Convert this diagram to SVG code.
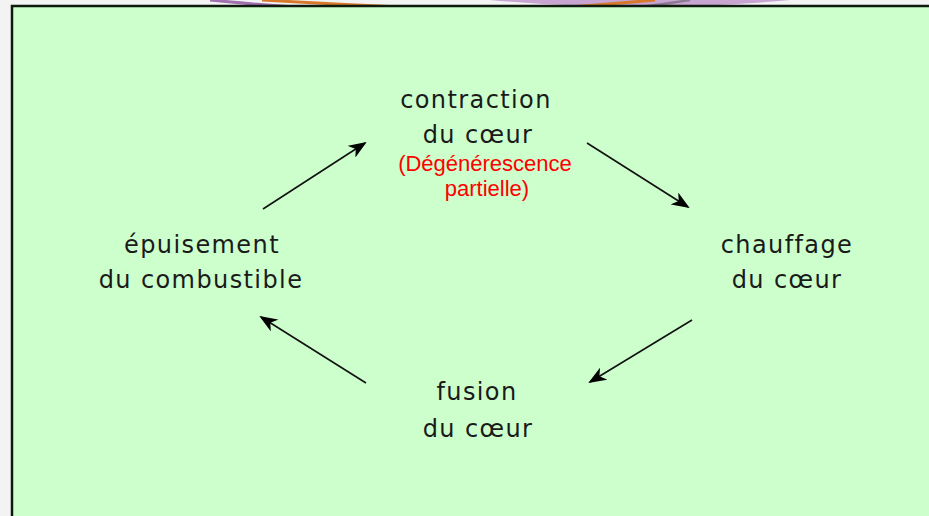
<svg xmlns="http://www.w3.org/2000/svg" width="929" height="516" viewBox="0 0 929 516">
<style>
.lbl{font-family:"DejaVu Sans","Liberation Sans",sans-serif;font-size:24px;fill:#1a1a1a;text-anchor:middle;letter-spacing:1.4px}
.red{font-family:"Liberation Sans",Arial,sans-serif;font-size:22px;fill:#ff0000;text-anchor:middle}
.arr{stroke:#111;stroke-width:1.6;fill:none;marker-end:url(#ah)}
</style>
<defs>
<marker id="ah" markerWidth="18" markerHeight="14" refX="16" refY="7" orient="auto" markerUnits="userSpaceOnUse">
<path d="M0,0 L18,7 L0,14 L5,7 Z" fill="#000"/>
</marker>
</defs>
<rect x="0" y="0" width="929" height="516" fill="#f3f3f3"/>
<g id="decoration">
<path d="M490,0 Q640,14 790,0 Z" fill="#c8a4d2"/>
<path d="M210,0 Q250,4 295,7" stroke="#a070b0" stroke-width="3" fill="none"/>
<path d="M262,0 Q330,4 400,7" stroke="#d8782c" stroke-width="3" fill="none"/>
<path d="M570,7 Q610,4 655,0" stroke="#d8782c" stroke-width="3" fill="none"/>
<path d="M640,7 Q665,4 690,0" stroke="#8a7a92" stroke-width="2.5" fill="none"/>
</g>
<rect x="12" y="6" width="930" height="520" fill="#ccffcc" stroke="#0d1a0d" stroke-width="2.5"/>
<g id="contraction">
<text class="lbl" x="476" y="108">contraction</text>
<text class="lbl" x="478" y="143">du cœur</text>
<text class="red" x="485" y="171">(Dégénérescence</text>
<text class="red" x="487" y="196">partielle)</text>
</g>
<g id="chauffage">
<text class="lbl" x="787" y="253">chauffage</text>
<text class="lbl" x="787" y="288">du cœur</text>
</g>
<g id="fusion">
<text class="lbl" x="477" y="400">fusion</text>
<text class="lbl" x="478" y="437">du cœur</text>
</g>
<g id="epuisement">
<text class="lbl" x="202" y="253">épuisement</text>
<text class="lbl" x="201" y="288">du combustible</text>
</g>
<g id="connectors">
<line class="arr" x1="263" y1="209" x2="365" y2="143"/>
<line class="arr" x1="587" y1="143" x2="688" y2="207"/>
<line class="arr" x1="692" y1="320" x2="590" y2="382"/>
<line class="arr" x1="366" y1="383" x2="261" y2="317"/>
</g>
</svg>
